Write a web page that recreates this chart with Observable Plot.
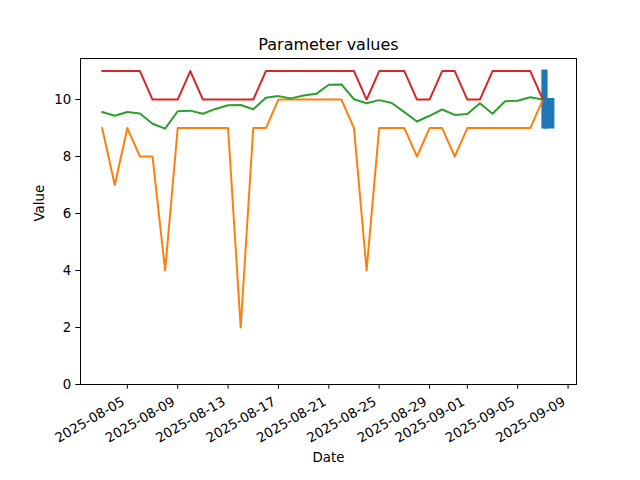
<!DOCTYPE html>
<html><head><meta charset="utf-8">
<script src="https://cdn.jsdelivr.net/npm/d3@7"></script>
<script src="https://cdn.jsdelivr.net/npm/@observablehq/plot@0.6"></script>
<style>body{margin:0;background:#fff}</style>
</head><body><div id="chart"></div>
<script>
const dates = ["2025-08-03","2025-08-04","2025-08-05","2025-08-06","2025-08-07","2025-08-08","2025-08-09","2025-08-10","2025-08-11","2025-08-12","2025-08-13","2025-08-14","2025-08-15","2025-08-16","2025-08-17","2025-08-18","2025-08-19","2025-08-20","2025-08-21","2025-08-22","2025-08-23","2025-08-24","2025-08-25","2025-08-26","2025-08-27","2025-08-28","2025-08-29","2025-08-30","2025-08-31","2025-09-01","2025-09-02","2025-09-03","2025-09-04","2025-09-05","2025-09-06","2025-09-07"];
const maxValues = [11,11,11,11,10,10,10,11,10,10,10,10,10,11,11,11,11,11,11,11,11,10,11,11,11,10,10,11,11,10,10,11,11,11,11,10];
const meanValues = [9.56,9.43,9.56,9.51,9.15,8.98,9.59,9.61,9.50,9.67,9.80,9.81,9.66,10.06,10.12,10.04,10.14,10.20,10.52,10.53,10.01,9.87,9.98,9.88,9.56,9.23,9.43,9.65,9.46,9.49,9.87,9.50,9.94,9.96,10.08,10.0];
const minValues = [9,7,9,8,8,4,9,9,9,9,9,2,9,9,10,10,10,10,10,10,9,4,9,9,9,8,9,9,8,9,9,9,9,9,9,10];
const rawStart = ["2025-09-07T00:00Z","2025-09-07T04:30Z"];
const rawEnd = ["2025-09-07T08:00Z","2025-09-07T21:00Z"];
const rawLow = [9,9];
const rawHigh = [11,10];
const xTicks = ["2025-08-05","2025-08-09","2025-08-13","2025-08-17","2025-08-21","2025-08-25","2025-08-29","2025-09-01","2025-09-05","2025-09-09"];
const yTicks = [0,2,4,6,8,10];

const rows = dates.map((d,i)=>({date:new Date(d), max:maxValues[i], mean:meanValues[i], min:minValues[i]}));
const raw = rawStart.map((s,i)=>({x1:new Date(s), x2:new Date(rawEnd[i]), y1:rawLow[i], y2:rawHigh[i]}));
const tickDates = xTicks.map(d=>new Date(d));
const fmt = d3.utcFormat("%Y-%m-%d");

const chart = Plot.plot({
  width: 640, height: 480,
  marginLeft: 80, marginRight: 64, marginTop: 58, marginBottom: 96,
  style: {fontFamily: "DejaVu Sans", fontSize: "13.33px", background: "#fff", color: "#000"},
  x: {type: "utc", domain: [new Date("2025-08-01T06:43Z"), new Date("2025-09-09T16:05Z")]},
  y: {domain: [0, 11.44]},
  marks: [
    Plot.rect(raw, {x1:"x1", x2:"x2", y1:"y1", y2:"y2", fill:"#1f77b4", stroke:"#1f77b4", strokeWidth:2}),
    Plot.line(rows, {x:"date", y:"min", stroke:"#ff7f0e", strokeWidth:2}),
    Plot.line(rows, {x:"date", y:"mean", stroke:"#2ca02c", strokeWidth:2}),
    Plot.line(rows, {x:"date", y:"max", stroke:"#d62728", strokeWidth:2}),
    Plot.frame({stroke:"#000", strokeWidth:1}),
    Plot.axisY({ticks: yTicks, tickSize: 4.67, tickPadding: 4.67, label: null, tickFormat: d=>String(d)}),
    Plot.axisX({ticks: tickDates, tickSize: 4.67, tickFormat: () => "", label: null}),
    Plot.text(tickDates, {x: d=>d, text: d=>fmt(d), frameAnchor: "bottom", rotate: -30, textAnchor: "end", lineAnchor: "middle", dx: -3.9, dy: 16, fontSize: 13.33}),
    Plot.text(["Date"], {frameAnchor: "bottom", dy: 73, text: d=>d, lineAnchor: "middle", fontSize: 13.33}),
    Plot.text(["Value"], {frameAnchor: "left", dx: -41, rotate: -90, text: d=>d, lineAnchor: "middle", fontSize: 13.33}),
    Plot.text(["Parameter values"], {frameAnchor: "top", dy: -14, text: d=>d, lineAnchor: "middle", fontSize: 16})
  ]
});
document.getElementById("chart").append(chart);
</script>
</body></html>
